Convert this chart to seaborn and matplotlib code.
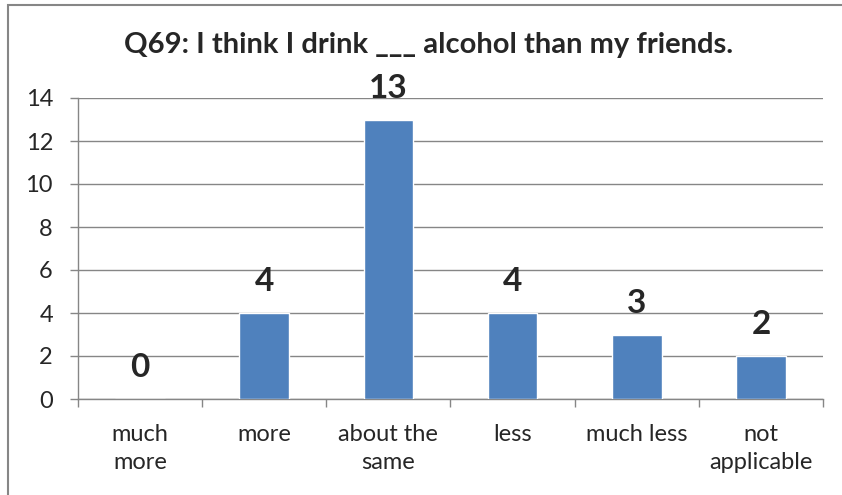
import matplotlib
matplotlib.use("Agg")
import matplotlib.pyplot as plt
import seaborn as sns
import pandas as pd
from matplotlib.patches import Rectangle

categories = ["much\nmore", "more", "about the\nsame", "less", "much less", "not\napplicable"]
counts = [0, 4, 13, 4, 3, 2]
title = "Q69: I think I drink ___ alcohol than my friends."

df = pd.DataFrame({"answer": categories, "count": counts})

sns.set_style("white")
plt.rcParams["font.family"] = ["Lato", "DejaVu Sans"]

GRAY = "#868686"
BLUE = "#4F81BD"

fig = plt.figure(figsize=(8.42, 4.95), dpi=100)
ax = fig.add_axes([78 / 842, 1 - 399 / 495, (823 - 78) / 842, (399 - 98) / 495])

sns.barplot(data=df, x="answer", y="count", color=BLUE, width=0.4,
            saturation=1, ax=ax, zorder=3)

ax.set_ylim(0, 14)
ax.set_yticks(range(0, 15, 2))
ax.set_xlim(-0.5, len(categories) - 0.5)
ax.set_xlabel("")
ax.set_ylabel("")
ax.yaxis.grid(True, color=GRAY, linewidth=1)
ax.set_axisbelow(True)
for s in ["top", "right"]:
    ax.spines[s].set_visible(False)
for s in ["left", "bottom"]:
    ax.spines[s].set_color(GRAY)
    ax.spines[s].set_linewidth(1)

# category boundary tick marks on x axis
ax.set_xticks([i - 0.5 for i in range(len(categories) + 1)], minor=True)
ax.tick_params(axis="x", which="minor", length=6, color=GRAY, width=1, bottom=True)
ax.tick_params(axis="x", which="major", length=0, labelsize=17, pad=18)
ax.tick_params(axis="y", length=6, color=GRAY, width=1, left=True, labelsize=17, pad=12)
for lbl in ax.get_xticklabels():
    lbl.set_linespacing(1.4)

for i, v in enumerate(counts):
    ax.annotate(str(v), (i, v), xytext=(0, 12), textcoords="offset points",
                ha="center", va="bottom", fontsize=24, fontweight="bold",
                annotation_clip=False)

fig.text(429 / 842, 1 - 53 / 495, title, ha="center", va="baseline",
         fontsize=21, fontweight="bold")

fig.patches.append(Rectangle((8 / 842, -0.1), 1.2, 1 - 5 / 495 + 0.1,
                             transform=fig.transFigure, fill=False,
                             edgecolor=GRAY, linewidth=1.5))

fig.savefig("out.png", dpi=100)
